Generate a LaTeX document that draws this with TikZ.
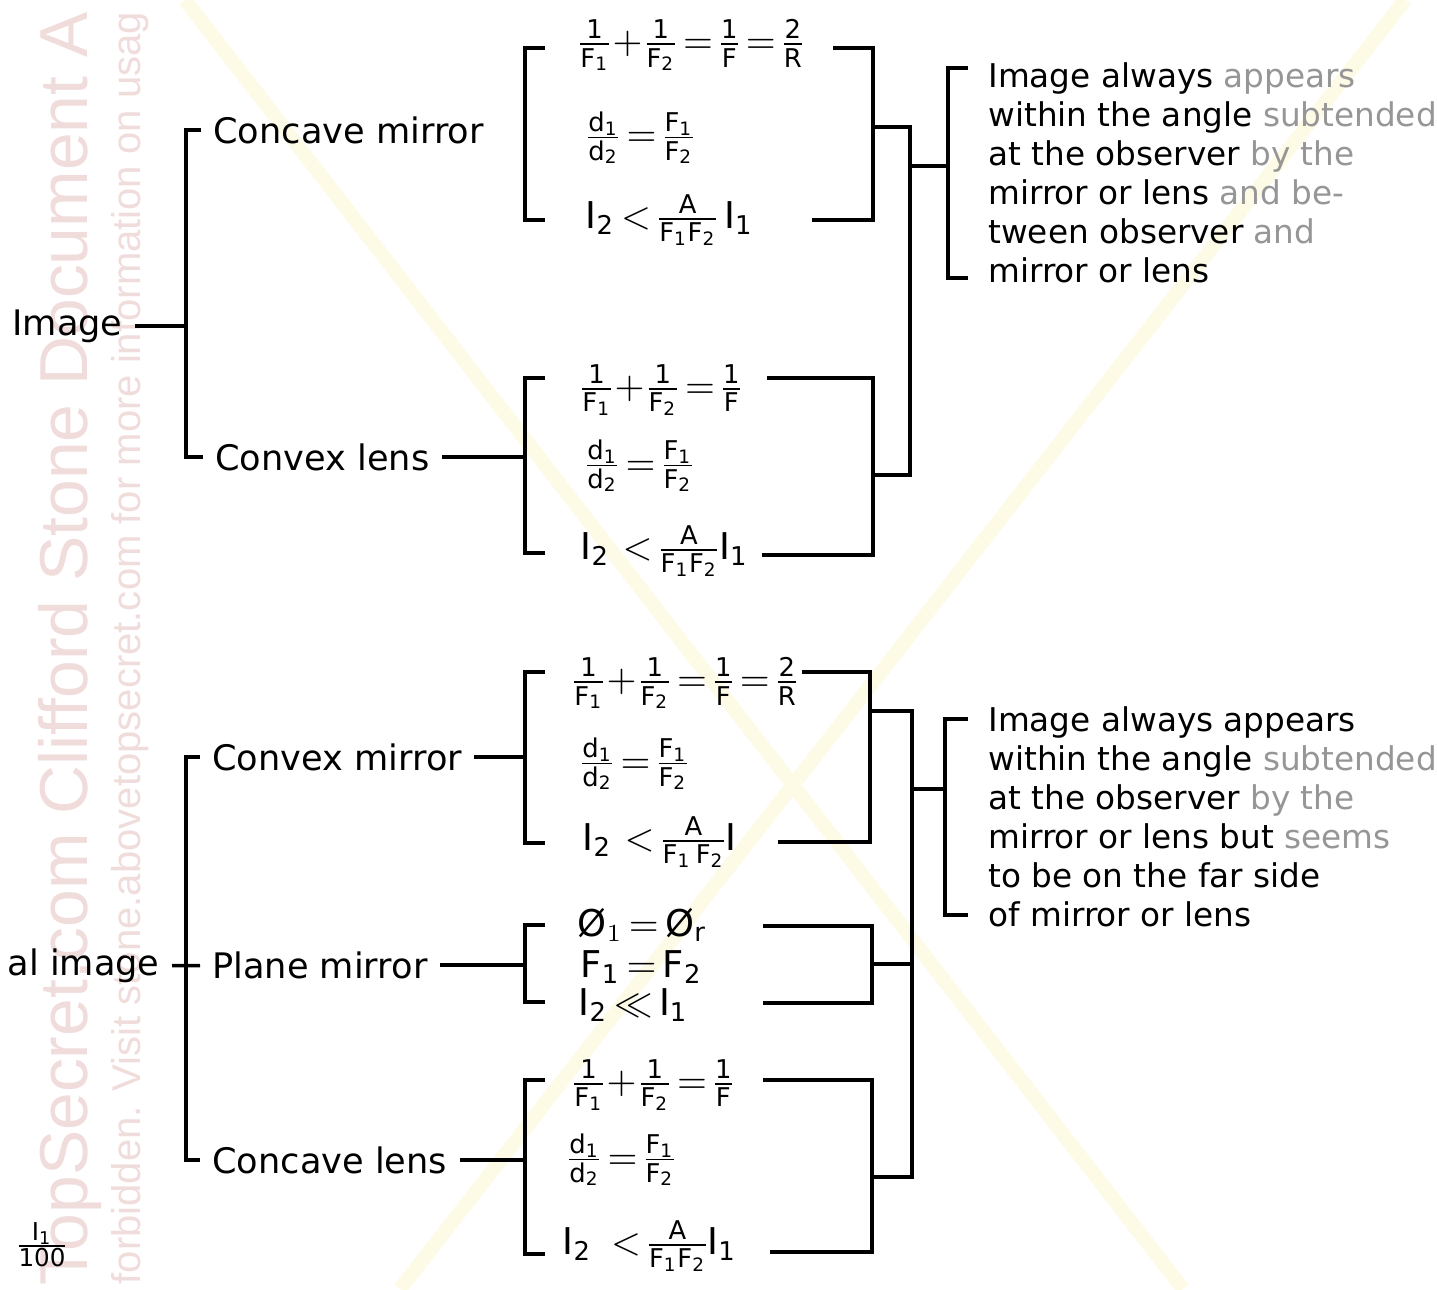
\documentclass[tikz,border=0pt]{standalone}
\usepackage{amsmath}
\usepackage{amssymb}
\usepackage{fontspec}
\setmainfont{DejaVu Sans}
\newfontfamily\wmfont{Liberation Sans}
\definecolor{wmpink}{RGB}{241,220,220}
\definecolor{wmyellow}{RGB}{253,250,230}
\definecolor{faded}{RGB}{150,150,150}

\begin{document}
\begin{tikzpicture}[x=0.1mm, y=-0.1mm,
    every node/.style={font=\fontsize{10}{12}\selectfont},
    lbl/.style={anchor=west},
    eqn/.style={anchor=west, inner sep=0pt, font=\fontsize{10.5}{12}\selectfont,
        execute at begin node={\medmuskip=1mu\thickmuskip=3mu\nulldelimiterspace=0.5pt}},
    note/.style={anchor=west, align=left, font=\fontsize{9.3}{11.1}\selectfont},
    link/.style={line width=1pt},
    wmark/.style={text=wmpink, rotate=90, anchor=base west, inner sep=0pt}
]

\useasboundingbox (0,0) rectangle (1437,1289);
\fill[white] (0,0) rectangle (1437,1289);
\clip (0,0) rectangle (1437,1289);

% watermark
\draw[wmyellow, line width=4pt] (185,0) -- (1183,1289);
\draw[wmyellow, line width=4pt] (1405,0) -- (400,1289);
\node[wmark, font=\wmfont\fontsize{19.3}{20}\selectfont] (wmA) at (87,1286)
{TopSecret.com Clifford Stone Document A};
\node[wmark, font=\wmfont\fontsize{11.4}{12}\selectfont] (wmB) at (140,1285)
{forbidden. Visit stone.abovetopsecret.com for more information on usag};

% left tree
\node[lbl] (img) at (0,326) {Image};
\node[lbl] (cm)  at (201,130) {Concave mirror};
\node[lbl] (cl)  at (203,457) {Convex lens};
\coordinate (s1) at (186,326);
\draw[link] (cm.west) -| (s1) |- (cl.west);
\draw[link] (img) -- (s1);

\node[lbl, anchor=east] (vimg) at (172,966) {al image};
\node[lbl] (cxm) at (200,757) {Convex mirror};
\node[lbl] (pm)  at (200,965) {Plane mirror};
\node[lbl] (ccl) at (200,1160) {Concave lens};
\coordinate (s2) at (186,965);
\draw[link] (cxm.west) -| (s2) |- (ccl.west);
\draw[link] (vimg) -- (pm);

\node (ifrac) at (42,1245) {$\mathrm{\frac{I_1}{100}}$};

% concave mirror
\node[eqn] (cmA) at (578,45)  {$\mathrm{\frac{1}{F_1}+\frac{1}{F_2}=\frac{1}{F}=\frac{2}{R}}$};
\node[eqn] (cmB) at (586,138) {$\mathrm{\frac{d_1}{d_2}=\frac{F_1}{F_2}}$};
\node[eqn] (cmC) at (585,220) {$\mathrm{I_2<\frac{A}{F_1F_2}\,I_1}$};
\coordinate (cmL1) at (545,48);  \coordinate (cmL2) at (545,220);
\coordinate (cmLm) at (525,133);
\coordinate (cmR1) at (833,48);  \coordinate (cmR2) at (812,220);
\coordinate (cmRm) at (873,127);
\draw[link] (cmL1) -| (cmLm) |- (cmL2);
\draw[link] (cmR1) -| (cmRm) |- (cmR2);

% convex lens
\node[eqn] (clA) at (580,390) {$\mathrm{\frac{1}{F_1}+\frac{1}{F_2}=\frac{1}{F}}$};
\node[eqn] (clB) at (585,466) {$\mathrm{\frac{d_1}{d_2}=\frac{F_1}{F_2}}$};
\node[eqn] (clC) at (580,551) {$\mathrm{I_2\;<\frac{A}{F_1F_2}I_1}$};
\coordinate (clL1) at (545,378);  \coordinate (clL2) at (545,553);
\coordinate (clLm) at (525,457);
\coordinate (clR1) at (767,378);  \coordinate (clR2) at (762,555);
\coordinate (clRm) at (873,475);
\draw[link] (clL1) -| (clLm) |- (clL2);
\draw[link] (clR1) -| (clRm) |- (clR2);
\draw[link] (cl) -- (clLm);

% upper note
\coordinate (uJ) at (910,166);
\coordinate (uT) at (948,166);
\coordinate (uT1) at (968,68);  \coordinate (uT2) at (968,278);
\draw[link] (cmRm) -| (uJ) |- (clRm);
\draw[link] (uJ) -- (uT);
\draw[link] (uT1) -| (uT) |- (uT2);
\node[note] (upNote) at (976,173)
{Image always \textcolor{faded}{appears}\\
within the angle \textcolor{faded}{subtended}\\
at the observer \textcolor{faded}{by the}\\
mirror or lens \textcolor{faded}{and be-}\\
tween observer \textcolor{faded}{and}\\
mirror or lens};

% convex mirror
\node[eqn] (cxmA) at (572,683) {$\mathrm{\frac{1}{F_1}+\frac{1}{F_2}=\frac{1}{F}=\frac{2}{R}}$};
\node[eqn] (cxmB) at (580,764) {$\mathrm{\frac{d_1}{d_2}=\frac{F_1}{F_2}}$};
\node[eqn] (cxmC) at (582,842) {$\mathrm{I_2\;<\frac{A}{F_1\,F_2}I}$};
\coordinate (cxmL1) at (545,672);  \coordinate (cxmL2) at (545,843);
\coordinate (cxmLm) at (525,757);
\coordinate (cxmR1) at (802,672);  \coordinate (cxmR2) at (778,842);
\coordinate (cxmRm) at (870,711);
\draw[link] (cxmL1) -| (cxmLm) |- (cxmL2);
\draw[link] (cxmR1) -| (cxmRm) |- (cxmR2);
\draw[link] (cxm) -- (cxmLm);

% plane mirror
\node[eqn] (pmA) at (577,925)  {$\text{\O}_1=\text{\O}_{\mathrm{r}}$};
\node[eqn] (pmB) at (580,967)  {$\mathrm{F_1=F_2}$};
\node[eqn] (pmC) at (578,1005) {$\mathrm{I_2\ll I_1}$};
\coordinate (pmL1) at (545,925);  \coordinate (pmL2) at (545,1002);
\coordinate (pmLm) at (525,965);
\coordinate (pmR1) at (763,926);  \coordinate (pmR2) at (763,1003);
\coordinate (pmRm) at (872,964);
\draw[link] (pmL1) -| (pmLm) |- (pmL2);
\draw[link] (pmR1) -| (pmRm) |- (pmR2);
\draw[link] (pm) -- (pmLm);

% concave lens
\node[eqn] (cclA) at (572,1085) {$\mathrm{\frac{1}{F_1}+\frac{1}{F_2}=\frac{1}{F}}$};
\node[eqn] (cclB) at (567,1160) {$\mathrm{\frac{d_1}{d_2}=\frac{F_1}{F_2}}$};
\node[eqn] (cclC) at (562,1246) {$\mathrm{I_2\;\;<\frac{A}{F_1F_2}I_1}$};
\coordinate (cclL1) at (545,1080);  \coordinate (cclL2) at (545,1254);
\coordinate (cclLm) at (525,1160);
\coordinate (cclR1) at (763,1080);  \coordinate (cclR2) at (770,1252);
\coordinate (cclRm) at (872,1177);
\draw[link] (cclL1) -| (cclLm) |- (cclL2);
\draw[link] (cclR1) -| (cclRm) |- (cclR2);
\draw[link] (ccl) -- (cclLm);

% lower note
\coordinate (lJ) at (912,789);
\coordinate (lT) at (945,789);
\coordinate (lT1) at (968,719);  \coordinate (lT2) at (968,915);
\draw[link] (cxmRm) -| (lJ) |- (cclRm);
\draw[link] (pmRm) -- (pmRm -| lJ);
\draw[link] (lJ) -- (lT);
\draw[link] (lT1) -| (lT) |- (lT2);
\node[note] (lowNote) at (976,817)
{Image always appears\\
within the angle \textcolor{faded}{subtended}\\
at the observer \textcolor{faded}{by the}\\
mirror or lens but \textcolor{faded}{seems}\\
to be on the far side\\
of mirror or lens};

\end{tikzpicture}
\end{document}
